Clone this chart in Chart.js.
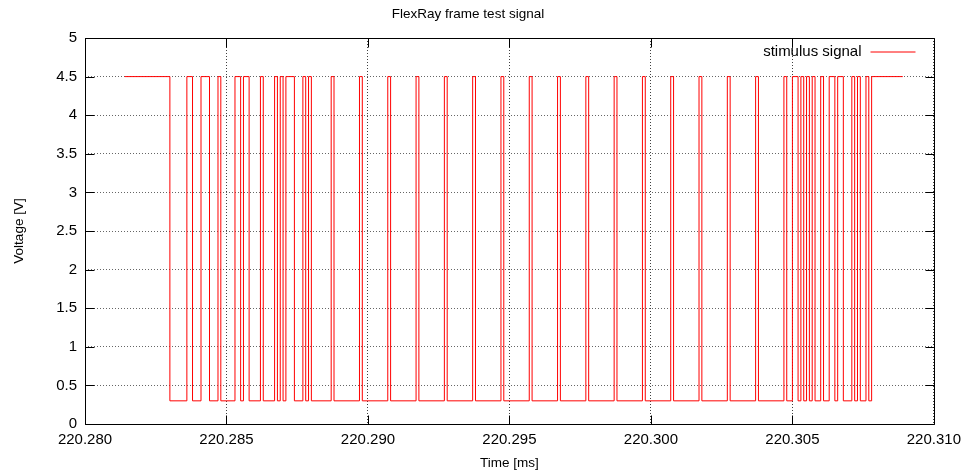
<!DOCTYPE html>
<html>
<head>
<meta charset="utf-8">
<title>FlexRay frame test signal</title>
<script src="https://cdn.jsdelivr.net/npm/chart.js@4/dist/chart.umd.min.js"></script>
<style>
  body { margin: 0; background: #fff; }
  #wrap { width: 968px; height: 475px; }
</style>
</head>
<body>
<div id="wrap"><canvas id="mycanvas" width="968" height="475"></canvas></div>
<script>
// signal edges: time [ms] where the level changes, and the new level [V]
var edgeTimes = [
  220.2814, 220.2830, 220.2836, 220.2838, 220.2841, 220.2844, 220.2847, 220.2848,
  220.2853, 220.2855, 220.2856, 220.2858, 220.2862, 220.2863, 220.2867, 220.2868,
  220.2869, 220.2870, 220.2871, 220.2874, 220.2877, 220.2878, 220.2879, 220.2880,
  220.2887, 220.2888, 220.2897, 220.2898, 220.2907, 220.2908, 220.2917, 220.2918,
  220.2927, 220.2928, 220.2937, 220.2938, 220.2947, 220.2948, 220.2957, 220.2958,
  220.2967, 220.2968, 220.2977, 220.2978, 220.2987, 220.2988, 220.2997, 220.2998,
  220.3007, 220.3008, 220.3017, 220.3018, 220.3027, 220.3028, 220.3037, 220.3038,
  220.3047, 220.3048, 220.3050, 220.3052, 220.3053, 220.3054, 220.3055, 220.3056,
  220.3057, 220.3058, 220.3060, 220.3061, 220.3063, 220.3065, 220.3066, 220.3068,
  220.3071, 220.3072, 220.3073, 220.3074, 220.3076, 220.3077, 220.3078, 220.3089
];
var edgeLevels = [
  4.5, 0.3, 4.5, 0.3, 4.5, 0.3, 4.5, 0.3,
  4.5, 0.3, 4.5, 0.3, 4.5, 0.3, 4.5, 0.3,
  4.5, 0.3, 4.5, 0.3, 4.5, 0.3, 4.5, 0.3,
  4.5, 0.3, 4.5, 0.3, 4.5, 0.3, 4.5, 0.3,
  4.5, 0.3, 4.5, 0.3, 4.5, 0.3, 4.5, 0.3,
  4.5, 0.3, 4.5, 0.3, 4.5, 0.3, 4.5, 0.3,
  4.5, 0.3, 4.5, 0.3, 4.5, 0.3, 4.5, 0.3,
  4.5, 0.3, 4.5, 0.3, 4.5, 0.3, 4.5, 0.3,
  4.5, 0.3, 4.5, 0.3, 4.5, 0.3, 4.5, 0.3,
  4.5, 0.3, 4.5, 0.3, 4.5, 0.3, 4.5, 4.5
];
var xTicks = [220.280, 220.285, 220.290, 220.295, 220.300, 220.305, 220.310];
var yTicks = [0, 0.5, 1, 1.5, 2, 2.5, 3, 3.5, 4, 4.5, 5];

Chart.defaults.font.family = '"Liberation Sans", Arial, sans-serif';
Chart.defaults.color = '#000';

var points = [];
for (var i = 0; i < edgeTimes.length; i++) {
  points.push({ x: edgeTimes[i], y: edgeLevels[i] });
}

// gnuplot style box: solid border, inward ticks on all four sides, legend top right
var framePlugin = {
  id: 'frame',
  afterDraw: function(chart) {
    var ctx = chart.ctx, a = chart.chartArea;
    var xs = chart.scales.x, ys = chart.scales.y;
    var L = Math.round(a.left) + 0.5, R = Math.round(a.right) + 0.5;
    var T = Math.round(a.top) + 0.5, B = Math.round(a.bottom) + 0.5;
    ctx.save();
    ctx.strokeStyle = '#000';
    ctx.lineWidth = 1;
    ctx.beginPath();
    ctx.rect(L, T, R - L, B - T);
    xTicks.forEach(function(v) {
      var px = Math.round(xs.getPixelForValue(v)) + 0.5;
      ctx.moveTo(px, B); ctx.lineTo(px, B - 9);
      ctx.moveTo(px, T); ctx.lineTo(px, T + 9);
    });
    yTicks.forEach(function(v) {
      var py = Math.round(ys.getPixelForValue(v)) + 0.5;
      ctx.moveTo(L, py); ctx.lineTo(L + 9, py);
      ctx.moveTo(R, py); ctx.lineTo(R - 9, py);
    });
    ctx.stroke();

    // key
    ctx.font = '15px "Liberation Sans", Arial, sans-serif';
    ctx.fillStyle = '#000';
    ctx.textAlign = 'right';
    ctx.textBaseline = 'middle';
    ctx.fillText('stimulus signal', R - 73, T + 13);
    ctx.strokeStyle = '#ff0000';
    ctx.beginPath();
    ctx.moveTo(R - 64, T + 13.5);
    ctx.lineTo(R - 19, T + 13.5);
    ctx.stroke();
    ctx.restore();
  }
};

var ctx = document.getElementById('mycanvas');

var chart = new Chart(ctx, {
  type: 'line',
  data: {
    datasets: [{
      label: 'stimulus signal',
      data: points,
      stepped: true,
      borderColor: '#ff0000',
      borderWidth: 1,
      pointRadius: 0,
      fill: false
    }]
  },
  options: {
    responsive: false,
    animation: false,
    layout: { padding: { left: 0, right: 32, top: 0, bottom: 0 } },
    plugins: {
      legend: { display: false },
      tooltip: { enabled: false },
      title: {
        display: true,
        text: 'FlexRay frame test signal',
        font: { size: 13.5, weight: 'normal' },
        padding: { top: 6, bottom: 15.8 }
      }
    },
    scales: {
      x: {
        type: 'linear',
        min: 220.280,
        max: 220.310,
        afterBuildTicks: function(scale) {
          scale.ticks = xTicks.map(function(v) { return { value: v }; });
        },
        afterFit: function(scale) { scale.height = 51; },
        ticks: {
          autoSkip: false,
          maxRotation: 0,
          padding: 7,
          font: { size: 15 },
          callback: function(v) { return v.toFixed(3); }
        },
        grid: { drawTicks: false, color: 'rgba(0,0,0,0.75)', lineWidth: 1 },
        border: { display: false, dash: [1, 2] },
        title: { display: true, text: 'Time [ms]', font: { size: 13.5 }, padding: { top: 0, bottom: 4 } }
      },
      y: {
        min: 0,
        max: 5,
        afterBuildTicks: function(scale) {
          scale.ticks = yTicks.map(function(v) { return { value: v }; });
        },
        afterFit: function(scale) { scale.width = 85; },
        ticks: {
          padding: 8,
          font: { size: 15 },
          callback: function(v) { return String(v); }
        },
        grid: { drawTicks: false, color: 'rgba(0,0,0,0.6)', lineWidth: 1 },
        border: { display: false, dash: [1, 2] },
        title: { display: true, text: 'Voltage [V]', font: { size: 13.5 }, padding: { top: 11, bottom: 0 } }
      }
    }
  },
  plugins: [framePlugin]
});
</script>
</body>
</html>
